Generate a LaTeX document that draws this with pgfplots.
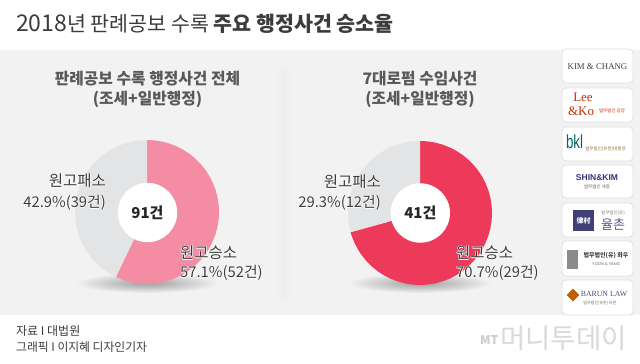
\documentclass[border=0pt]{standalone}
\usepackage{pgfplots}
\pgfplotsset{compat=1.18}
\usepackage{fontspec}
\setmainfont{Noto Sans CJK KR}
\newfontfamily\logoserif{Liberation Serif}
\newfontfamily\logosans{Liberation Sans}
\definecolor{panel}{HTML}{F2F2F2}
\definecolor{pinkw}{HTML}{F48CA4}
\definecolor{redw}{HTML}{EE3A5A}
\definecolor{grayw}{HTML}{E3E4E6}
\definecolor{tx}{HTML}{3C3C3C}
\newcommand{\fs}[1]{\fontsize{#1}{#1}\selectfont}
\newcommand{\lab}[5]{% anchor, x, y, size, text
  \foreach \dx/\dy in {-0.6/0,0.6/0,0/-0.6,0/0.6}{
    \node[anchor=#1,inner sep=0,text=white,font=\fs{#4}] at (#2+\dx,#3+\dy) {#5};}
  \node[anchor=#1,inner sep=0,text=tx,font=\fs{#4}] at (#2,#3) {#5};}
\pgfplotsset{donut/.style={width=144pt,height=144pt,scale only axis,hide axis,clip=false,
  xmin=-72,xmax=72,ymin=-72,ymax=72,data cs=polar}}
\begin{document}
\begin{tikzpicture}[x=1pt,y=1pt]
\useasboundingbox (0,0) rectangle (640,364);
\begin{scope}[shift={(0,364)},y=-1pt]
\fill[white] (0,0) rectangle (640,364);
\fill[panel] (0,50) rectangle (640,315);
% divider shadow
\shade[left color=panel,right color=black!7] (274,70) rectangle (284,300);
\shade[left color=black!7,right color=panel] (284,70) rectangle (291,300);
% donut shadows
\shade[inner color=black!38,outer color=panel] (147,283) ellipse (72 and 10);
\shade[inner color=black!38,outer color=panel] (420,283) ellipse (72 and 10);
\end{scope}

\begin{axis}[donut,at={(75pt,80pt)}]
\addplot[fill=pinkw,draw=none] coordinates {(0,0)(90,72)(84,72)(78,72)(72,72)(66,72)(60,72)(54,72)(48,72)(42,72)(36,72)(30,72)(24,72)(18,72)(12,72)(6,72)(0,72)(-6,72)(-12,72)(-18,72)(-24,72)(-30,72)(-36,72)(-42,72)(-48,72)(-54,72)(-60,72)(-66,72)(-72,72)(-78,72)(-84,72)(-90,72)(-96,72)(-102,72)(-108,72)(-114,72)(-115.56,72)} -- cycle;
\addplot[fill=grayw,draw=none] coordinates {(0,0)(-115.56,72)(-120,72)(-126,72)(-132,72)(-138,72)(-144,72)(-150,72)(-156,72)(-162,72)(-168,72)(-174,72)(-180,72)(-186,72)(-192,72)(-198,72)(-204,72)(-210,72)(-216,72)(-222,72)(-228,72)(-234,72)(-240,72)(-246,72)(-252,72)(-258,72)(-264,72)(-270,72)} -- cycle;
\end{axis}
\begin{axis}[donut,at={(348pt,79pt)}]
\addplot[fill=redw,draw=none] coordinates {(0,0)(90,72)(84,72)(78,72)(72,72)(66,72)(60,72)(54,72)(48,72)(42,72)(36,72)(30,72)(24,72)(18,72)(12,72)(6,72)(0,72)(-6,72)(-12,72)(-18,72)(-24,72)(-30,72)(-36,72)(-42,72)(-48,72)(-54,72)(-60,72)(-66,72)(-72,72)(-78,72)(-84,72)(-90,72)(-96,72)(-102,72)(-108,72)(-114,72)(-120,72)(-126,72)(-132,72)(-138,72)(-144,72)(-150,72)(-156,72)(-162,72)(-164.52,72)} -- cycle;
\addplot[fill=grayw,draw=none] coordinates {(0,0)(-164.52,72)(-168,72)(-174,72)(-180,72)(-186,72)(-192,72)(-198,72)(-204,72)(-210,72)(-216,72)(-222,72)(-228,72)(-234,72)(-240,72)(-246,72)(-252,72)(-258,72)(-264,72)(-270,72)} -- cycle;
\end{axis}

\begin{scope}[shift={(0,364)},y=-1pt]
\fill[white] (147.5,212.5) circle (29.7);
\fill[white] (420.3,213) circle (29.7);
\node[text=black!85,font=\fs{15}\bfseries] at (147.5,212.5) {91건};
\node[text=black!85,font=\fs{15}\bfseries] at (420.3,213) {41건};
% title
\node[anchor=west,inner sep=0,text=tx,font=\fs{20.6}] at (16,24) {{\fs{23}2018}년 판례공보 수록 \textbf{주요 행정사건 승소율}};
% panel titles
\node[text=black!65,font=\fs{15.8}\bfseries] at (147.5,79) {판례공보 수록 행정사건 전체};
\node[text=black!65,font=\fs{15.8}\bfseries] at (147.5,99) {(조세+일반행정)};
\node[text=black!65,font=\fs{15.8}\bfseries] at (420,79) {7대로펌 수임사건};
\node[text=black!65,font=\fs{15.8}\bfseries] at (420,99) {(조세+일반행정)};
% labels
\lab{east}{106}{181}{15.5}{원고패소}
\lab{east}{106}{203}{14.8}{42.9\%(39건)}
\lab{east}{381}{182}{15.5}{원고패소}
\lab{east}{381}{203}{14.8}{29.3\%(12건)}
\lab{west}{180}{253}{15.5}{원고승소}
\lab{west}{180}{273}{14.8}{57.1\%(52건)}
\lab{west}{456}{253}{15.5}{원고승소}
\lab{west}{456}{273}{14.8}{70.7\%(29건)}
% footer
\node[anchor=west,inner sep=0,text=tx,font=\fs{12}] at (16,331) {자료 I 대법원};
\node[anchor=west,inner sep=0,text=tx,font=\fs{11.8}] at (16,347) {그래픽 I 이지혜 디자인기자};
% watermark
\node[anchor=west,inner sep=0,text=black!20,font=\fs{12}\bfseries] at (480,340) {MT};
\node[anchor=west,inner sep=0,text=black!15,font=\fs{27.5}] at (500,338) {머니투데이};
% logo cards
\foreach \a/\b in {49/83,88/122,127/161,165/198,203/237,241/276,280/315}{
  \fill[white,draw=black!12,line width=0.8pt,rounded corners=4pt] (562,\a) rectangle (633,\b);}
\node[text=black!75,font=\logoserif\fs{8.8}] at (597.5,67) {KIM \& CHANG};
\node[inner sep=0,text=red!55!orange!80!black,font=\logoserif\fs{13}] at (583,97) {Lee};
\node[inner sep=0,text=red!55!orange!80!black,font=\logoserif\fs{13}] at (581,111) {\&Ko};
\node[text=red!55!orange!80!black,font=\fs{4.5}] at (612,111) {법무법인 광장};
\node[xscale=.7,text=teal!80!black,font=\logosans\fs{19}] at (574.5,142) {bkl};
\node[text=brown!80!black,font=\fs{4.5}] at (605.5,149) {법무법인(유한)태평양};
\node[text=blue!35!black!80,font=\logosans\bfseries\fs{8.5}] at (597,178) {SHIN\&KIM};
\node[text=black!60,font=\fs{4.5}] at (597,187) {법무법인 세종};
\fill[blue!30!black!75] (573,210) rectangle (594,231);
\node[text=white,font=\fs{7}\bfseries] at (583.5,220.5) {律村};
\node[text=black!50,font=\fs{4.5}] at (613,213) {법무법인(유)};
\node[text=blue!30!black!65,font=\fs{13}] at (613,225) {율촌};
\fill[black!45] (567,250) rectangle (578,269);
\node[text=black!75,font=\fs{6}\bfseries] at (606,256) {법무법인(유) 화우};
\node[text=black!60,font=\logosans\fs{4}] at (606,264) {YOON \& YANG};
\fill[orange!75!black,rotate around={45:(573,295)}] (568.5,290.5) rectangle (577.5,299.5);
\node[text=blue!30!black!70,font=\logoserif\fs{7.8}] at (604,294) {BARUN LAW};
\node[text=black!55,font=\fs{4}] at (600,303) {법무법인(유한) 바른};
\end{scope}
\end{tikzpicture}
\end{document}
